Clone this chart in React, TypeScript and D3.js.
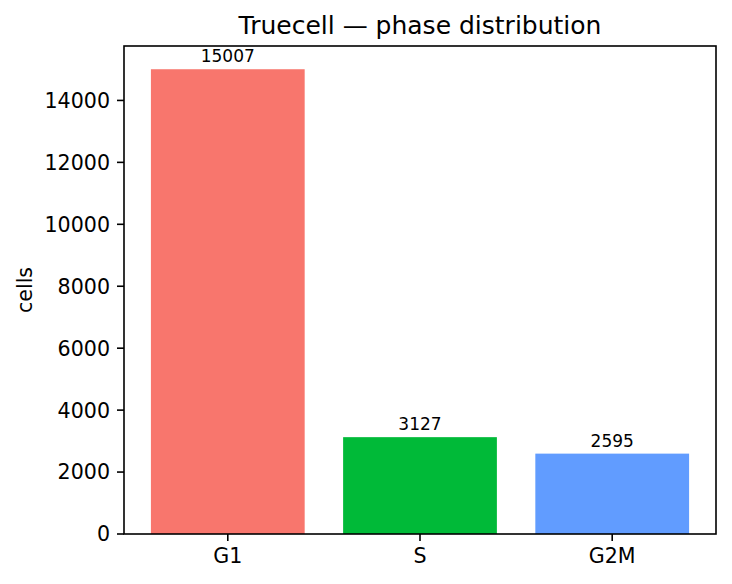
import * as d3 from 'd3'
import React from 'react'

const phases = ['G1', 'S', 'G2M']
const counts = [15007, 3127, 2595]
const colors = ['#F8766D', '#00BA38', '#619CFF']
const yTicks = [0, 2000, 4000, 6000, 8000, 10000, 12000, 14000]

const W = 732
const H = 584
const m = { left: 124, right: 716, top: 46, bottom: 534 }
const font = 'DejaVu Sans, sans-serif'
const ink = '#000'

export default function App() {
    const barW = 0.8
    const pad = (phases.length - 1 + barW) * 0.05
    const x = d3.scaleLinear()
        .domain([-barW / 2 - pad, phases.length - 1 + barW / 2 + pad])
        .range([m.left, m.right])
    const y = d3.scaleLinear()
        .domain([0, d3.max(counts)! * 1.05])
        .range([m.bottom, m.top])

    return (
        <svg width={W} height={H} viewBox={`0 0 ${W} ${H}`}
            style={{ position: 'absolute', left: 0, top: 0, background: '#fff' }}
            fontFamily={font}>
            <rect x={0} y={0} width={W} height={H} fill="#fff" />
            {phases.map((p, i) => (
                <g key={p}>
                    <rect x={x(i - barW / 2)} y={y(counts[i])}
                        width={x(i + barW / 2) - x(i - barW / 2)}
                        height={y(0) - y(counts[i])} fill={colors[i]} />
                    <text x={x(i)} y={y(counts[i]) - 7} textAnchor="middle"
                        fontSize={17} fill={ink}>{counts[i]}</text>
                </g>
            ))}
            {/* y axis */}
            {yTicks.map(t => (
                <g key={t}>
                    <line x1={m.left - 7} x2={m.left} y1={y(t)} y2={y(t)} stroke={ink} strokeWidth={1.6} />
                    <text x={m.left - 14} y={y(t)} dy="0.36em" textAnchor="end"
                        fontSize={20.6} fill={ink}>{t}</text>
                </g>
            ))}
            {/* x axis */}
            {phases.map((p, i) => (
                <g key={p}>
                    <line x1={x(i)} x2={x(i)} y1={m.bottom} y2={m.bottom + 7} stroke={ink} strokeWidth={1.6} />
                    <text x={x(i)} y={m.bottom + 29} textAnchor="middle"
                        fontSize={20.6} fill={ink}>{p}</text>
                </g>
            ))}
            <rect x={m.left} y={m.top} width={m.right - m.left} height={m.bottom - m.top}
                fill="none" stroke={ink} strokeWidth={1.6} />
            <text transform={`translate(32 ${(m.top + m.bottom) / 2}) rotate(-90)`}
                textAnchor="middle" fontSize={20.6} fill={ink}>cells</text>
            <text x={(m.left + m.right) / 2} y={m.top - 12} textAnchor="middle"
                fontSize={25} fill={ink}>Truecell — phase distribution</text>
        </svg>
    )
}
